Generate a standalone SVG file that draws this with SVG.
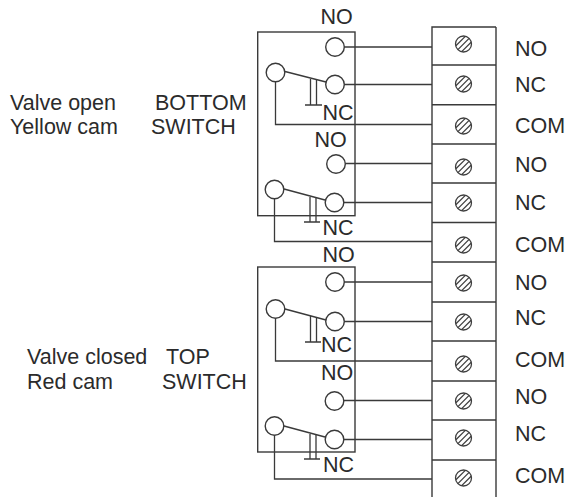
<svg xmlns="http://www.w3.org/2000/svg" xmlns:xlink="http://www.w3.org/1999/xlink" width="568" height="498" viewBox="0 0 568 498">
<style>
.l{fill:none;stroke:#3a3a3a;stroke-width:1.4}
.c{fill:#fff;stroke:#3a3a3a;stroke-width:1.4}
.w{fill:none;stroke:#3a3a3a;stroke-width:1.3}
.s{fill:#fff;stroke:#3f3f3f;stroke-width:1.3}
text{font-family:"Liberation Sans",Arial,sans-serif;font-size:21.5px;fill:#2b2b2b}
</style>
<defs>
<g id="screw"><circle class="s" r="8"/><path class="s" d="M-5.600 5.600L5.600-5.600M-1.800 7.600L7.600-1.800M-7.600 1.800L1.800-7.600"/></g>
</defs>
<rect width="568" height="498" fill="#fff"/>
<g id="switch-bottom-box"><rect class="l" x="257.7" y="32" width="97.3" height="183.7"/></g>
<g id="switch-top-box"><rect class="l" x="257.7" y="267" width="97.3" height="185"/></g>
<g id="connectors">
<path class="w" d="M344 47H432M344 84.5H432M275.500 81V124.500H432M345 163.500H432M344 202.500H432M274.500 198.500V241.500H432M344 282H432M344 321.500H432M275.500 318V361H432M343.500 400.500H432M343.500 439.500H432M274.500 435V479H432"/>
<path class="w" d="M285 71.500L326 82M284 189L325 200M285 309L326 320M284 426L325 437"/>
<path class="w" d="M310.500 79V105M316.500 80V105M305 105H322M310 197V222M316 198V222M304 222H320M310.500 316V342M316.500 317V342M305 342H321M310 434V459M316 435V459M304 459H320"/>
</g>
<g id="switch-1-no"><circle class="c" cx="335" cy="47" r="9.300"/></g>
<g id="switch-1-nc"><circle class="c" cx="335" cy="84.500" r="9.300"/></g>
<g id="switch-1-com"><circle class="c" cx="275.500" cy="72.500" r="9.300"/></g>
<g id="switch-2-no"><circle class="c" cx="336" cy="164" r="9.300"/></g>
<g id="switch-2-nc"><circle class="c" cx="334.500" cy="202.500" r="9.300"/></g>
<g id="switch-2-com"><circle class="c" cx="274.500" cy="189.500" r="9.300"/></g>
<g id="switch-3-no"><circle class="c" cx="335" cy="282" r="9.300"/></g>
<g id="switch-3-nc"><circle class="c" cx="335" cy="321.500" r="9.300"/></g>
<g id="switch-3-com"><circle class="c" cx="275.500" cy="309" r="9.300"/></g>
<g id="switch-4-no"><circle class="c" cx="334.500" cy="401" r="9.300"/></g>
<g id="switch-4-nc"><circle class="c" cx="334.500" cy="439.500" r="9.300"/></g>
<g id="switch-4-com"><circle class="c" cx="274.500" cy="426" r="9.300"/></g>
<g id="terminal-strip">
<path class="l" d="M496 27H432V497M496 27V497M432 65H496M432 104.700H496M432 144H496M432 183H496M432 222.500H496M432 262H496M432 302H496M432 341H496M432 381H496M432 420H496M432 460H496"/>
<use xlink:href="#screw" x="463.500" y="44"/>
<use xlink:href="#screw" x="463.500" y="84"/>
<use xlink:href="#screw" x="463.500" y="126"/>
<use xlink:href="#screw" x="463.500" y="167"/>
<use xlink:href="#screw" x="463.500" y="203"/>
<use xlink:href="#screw" x="463.500" y="245"/>
<use xlink:href="#screw" x="463.500" y="283"/>
<use xlink:href="#screw" x="463.500" y="322"/>
<use xlink:href="#screw" x="463.500" y="364"/>
<use xlink:href="#screw" x="463.500" y="401"/>
<use xlink:href="#screw" x="463.500" y="438"/>
<use xlink:href="#screw" x="463.500" y="478"/>
</g>
<g id="switch-labels">
<text x="320.500" y="24">NO</text>
<text x="322.500" y="120">NC</text>
<text x="314.500" y="146.500">NO</text>
<text x="322.500" y="235">NC</text>
<text x="322.500" y="262">NO</text>
<text x="321" y="352">NC</text>
<text x="321" y="380">NO</text>
<text x="323" y="472">NC</text>
</g>
<g id="terminal-labels">
<text x="515" y="56">NO</text>
<text x="515" y="92">NC</text>
<text x="515" y="133">COM</text>
<text x="515" y="172">NO</text>
<text x="515" y="210">NC</text>
<text x="515" y="252">COM</text>
<text x="515" y="290">NO</text>
<text x="515" y="325">NC</text>
<text x="515" y="367">COM</text>
<text x="515" y="404">NO</text>
<text x="515" y="441">NC</text>
<text x="515" y="483">COM</text>
</g>
<g id="side-labels">
<text x="10" y="110">Valve open</text>
<text x="10" y="134">Yellow cam</text>
<text x="155" y="110">BOTTOM</text>
<text x="151" y="134">SWITCH</text>
<text x="27" y="364">Valve closed</text>
<text x="27" y="389">Red cam</text>
<text x="166" y="364">TOP</text>
<text x="162" y="389">SWITCH</text>
</g>
</svg>
